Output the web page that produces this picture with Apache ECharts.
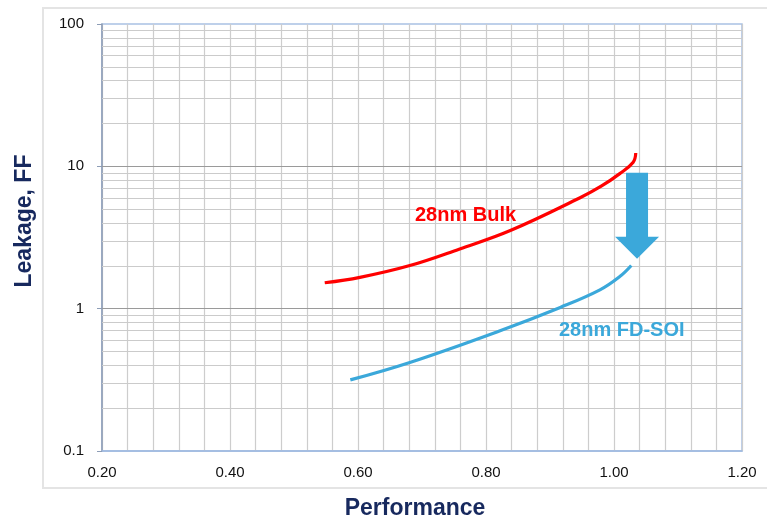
<!DOCTYPE html>
<html>
<head>
<meta charset="utf-8">
<script src="https://cdn.jsdelivr.net/npm/echarts@6/dist/echarts.min.js"></script>
<style>
  html, body { margin: 0; padding: 0; background: #fff; }
  #chart { width: 767px; height: 522px; }
</style>
</head>
<body>
<div id="chart"></div>
<script>
// Leakage vs. performance curves (log scale)
const bulkPerf = [0.548, 0.603, 0.681, 0.759, 0.838, 0.947, 0.980, 1.009, 1.030, 1.034];
const bulkLeak = [1.52, 1.66, 2.01, 2.63, 3.54, 6.02, 7.25, 8.89, 10.7, 12.4];

const soiPerf = [0.588, 0.681, 0.822, 0.916, 0.978, 1.009, 1.027];
const soiLeak = [0.316, 0.419, 0.70, 1.02, 1.355, 1.68, 2.01];

const xTicks = [0.2, 0.4, 0.6, 0.8, 1.0, 1.2];
const yDecades = [0.1, 1, 10, 100];

const xTitle = 'Performance';
const yTitle = 'Leakage, FF';
const bulkLabel = { text: '28nm Bulk', x: 0.689, y: 4.5 };
const soiLabel = { text: '28nm FD-SOI', x: 0.914, y: 0.70 };
const arrowSpec = { x: 1.036, from: 9.0, to: 2.24 };

const FONT = '"Liberation Sans", Arial, sans-serif';
const NAVY = '#17295e';
const RED = '#ff0000';
const BLUE = '#3ba8da';

// minor log gridlines: 2..9 within each decade
const yMinor = [];
for (let i = 0; i < yDecades.length - 1; i++) {
  for (let m = 2; m <= 9; m++) yMinor.push(+(yDecades[i] * m).toPrecision(3));
}

const chart = echarts.init(document.getElementById('chart'), null, { renderer: 'canvas' });

const option = {
  animation: false,
  backgroundColor: '#fff',
  grid: {
    left: 102, right: 25, top: 24, bottom: 71,
    show: true, borderColor: '#a9c1e3', borderWidth: 1.5,
    containLabel: false,
    outerBoundsMode: 'none'
  },
  xAxis: {
    type: 'value',
    min: xTicks[0], max: xTicks[xTicks.length - 1], interval: 0.2,
    axisLine: { show: true, lineStyle: { color: '#9db8df', width: 1.5 } },
    axisTick: { show: false },
    minorTick: { show: false, splitNumber: 5 },
    axisLabel: {
      margin: 14, fontFamily: FONT, fontSize: 15, color: '#111',
      formatter: v => v.toFixed(2)
    },
    splitLine: { show: true, lineStyle: { color: '#cdcdcd', width: 1.2 } },
    minorSplitLine: { show: true, lineStyle: { color: '#cdcdcd', width: 1.2 } }
  },
  yAxis: {
    type: 'log', logBase: 10,
    min: yDecades[0], max: yDecades[yDecades.length - 1],
    interval: 1,
    axisLine: { show: true, lineStyle: { color: '#8d9db6', width: 1.5 } },
    axisTick: { show: true, length: 5, lineStyle: { color: '#8d9db6' } },
    axisLabel: {
      margin: 18, fontFamily: FONT, fontSize: 15, color: '#111',
      formatter: v => String(+v.toPrecision(3))
    },
    splitLine: { show: false },
    minorSplitLine: { show: false }
  },
  series: [
    {
      // log-scale gridlines: light at 2..9, darker at each decade
      type: 'line', data: [], z: 1, silent: true,
      markLine: {
        silent: true, symbol: 'none', animation: false,
        label: { show: false },
        data: yMinor.map(v => ({ yAxis: v, lineStyle: { color: '#cbcbcb', width: 1.2, type: 'solid' } }))
          .concat(yDecades.slice(1, -1).map(v => ({ yAxis: v, lineStyle: { color: '#9a9a9a', width: 1.2, type: 'solid' } })))
      }
    },
    {
      name: '28nm Bulk', type: 'line', smooth: 0.4, showSymbol: false, z: 5,
      lineStyle: { color: RED, width: 3.2 },
      data: bulkPerf.map((p, i) => [p, bulkLeak[i]])
    },
    {
      name: '28nm FD-SOI', type: 'line', smooth: 0.4, showSymbol: false, z: 5,
      lineStyle: { color: BLUE, width: 3.2 },
      data: soiPerf.map((p, i) => [p, soiLeak[i]])
    }
  ]
};

chart.setOption(option);

function px(x, y) { return chart.convertToPixel({ gridIndex: 0 }, [x, y]); }

function buildGraphics() {
  const top = px(arrowSpec.x, arrowSpec.from);
  const tip = px(arrowSpec.x, arrowSpec.to);
  const shaftHalf = 11, headHalf = 22, headH = 22;
  const cx = top[0];
  const headY = tip[1] - headH;
  const arrowPts = [
    [cx - shaftHalf, top[1]], [cx + shaftHalf, top[1]],
    [cx + shaftHalf, headY], [cx + headHalf, headY],
    [cx, tip[1]],
    [cx - headHalf, headY], [cx - shaftHalf, headY]
  ];
  const b = px(bulkLabel.x, bulkLabel.y);
  const s = px(soiLabel.x, soiLabel.y);
  const titleFont = 'bold 23px ' + FONT;
  chart.setOption({
    graphic: [
      {
        type: 'rect', z: -1, silent: true,
        shape: { x: 43, y: 8, width: 740, height: 480 },
        style: { fill: 'none', stroke: '#e4e4e4', lineWidth: 2 }
      },
      {
        type: 'text', silent: true, x: 415, y: 509,
        style: { text: xTitle, fill: NAVY, font: titleFont, textAlign: 'center', textVerticalAlign: 'middle' }
      },
      {
        type: 'text', silent: true, x: 25, y: 221, rotation: Math.PI / 2,
        style: { text: yTitle, fill: NAVY, font: titleFont, textAlign: 'center', textVerticalAlign: 'middle' }
      },
      {
        type: 'polygon', z: 10, silent: true,
        shape: { points: arrowPts },
        style: { fill: BLUE }
      },
      {
        type: 'text', z: 10, silent: true, x: b[0], y: b[1],
        style: {
          text: bulkLabel.text, fill: RED, font: 'bold 20px ' + FONT,
          textAlign: 'left', textVerticalAlign: 'middle'
        }
      },
      {
        type: 'text', z: 10, silent: true, x: s[0], y: s[1],
        style: {
          text: soiLabel.text, fill: BLUE, font: 'bold 20px ' + FONT,
          textAlign: 'left', textVerticalAlign: 'middle'
        }
      }
    ]
  });
}
buildGraphics();
</script>
</body>
</html>
